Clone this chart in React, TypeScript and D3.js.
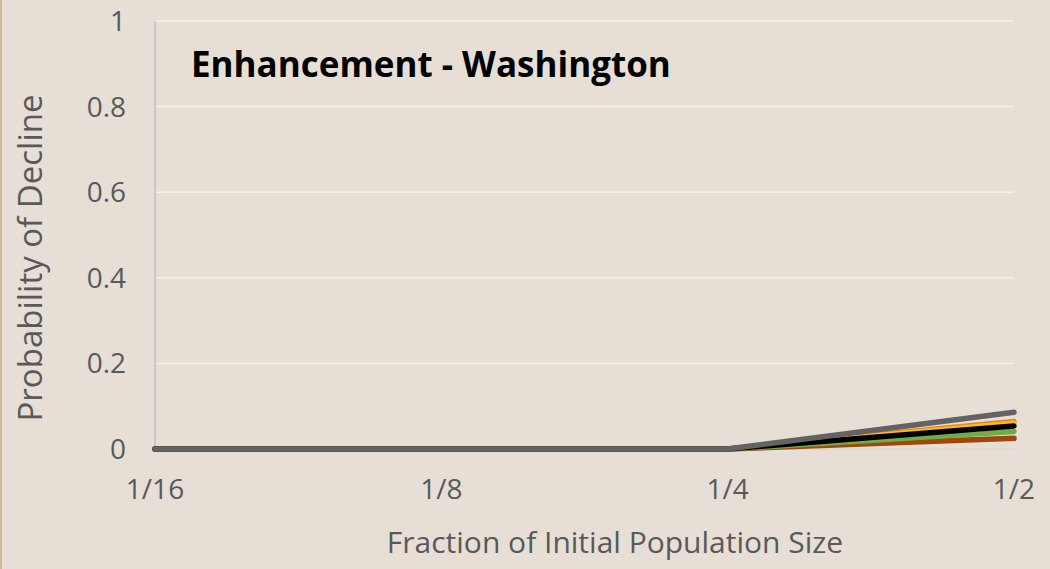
import React from "react";
import * as d3 from "d3";

const categories = ["1/16", "1/8", "1/4", "1/2"];
const yTicks = [0, 0.2, 0.4, 0.6, 0.8, 1];
const seriesNames = ["Brown", "Green", "Orange", "Yellow", "Black", "Gray"];
const seriesColors = ["#9E480E", "#70AD47", "#ED7D31", "#FFC000", "#000000", "#636363"];
const brownValues = [0, 0, 0, 0.025];
const greenValues = [0, 0, 0, 0.041];
const orangeValues = [0, 0, 0, 0.064];
const yellowValues = [0, 0, 0, 0.06];
const blackValues = [0, 0, 0, 0.054];
const grayValues = [0, 0, 0, 0.086];
const allValues = [brownValues, greenValues, orangeValues, yellowValues, blackValues, grayValues];

const W = 1050;
const H = 569;
const left = 155;
const right = 1014;
const top = 21;
const bottom = 449;
const font = "'Open Sans', 'Liberation Sans', sans-serif";

export default function App() {
  const x = d3.scalePoint<string>().domain(categories).range([left, right]);
  const y = d3.scaleLinear().domain([0, 1]).range([bottom, top]);
  const line = d3
    .line<number>()
    .x((_, i) => x(categories[i]) as number)
    .y((d) => y(d));

  return (
    <svg width={W} height={H} style={{ position: "absolute", left: 0, top: 0, display: "block" }}>
      <rect x={0} y={0} width={W} height={H} fill="#E7DFD6" />
      <rect x={0} y={0} width={2} height={H} fill="#D2B8A4" />
      {yTicks.map((t) => (
        <g key={t}>
          <line x1={left} x2={right} y1={y(t)} y2={y(t)} stroke={t === 0 ? "#D9D9D9" : "#F3EFEA"} strokeWidth={1.5} />
          <text x={126} y={y(t) + 10} textAnchor="end" fontFamily={font} fontSize={28} fill="#595959">
            {t}
          </text>
        </g>
      ))}
      <line x1={left} x2={left} y1={top} y2={bottom} stroke="#BFBFBF" strokeWidth={1.5} />
      {categories.map((c) => (
        <text key={c} x={x(c)} y={499} textAnchor="middle" fontFamily={font} fontSize={28} fill="#595959">
          {c}
        </text>
      ))}
      {allValues.map((vals, i) => (
        <path
          key={seriesNames[i]}
          d={line(vals) || ""}
          fill="none"
          stroke={seriesColors[i]}
          strokeWidth={5.5}
          strokeLinecap="round"
          strokeLinejoin="round"
        />
      ))}
      <text x={191} y={77} fontFamily={font} fontWeight="bold" fontSize={35} fill="#000000">
        Enhancement - Washington
      </text>
      <text x={615} y={553} textAnchor="middle" fontFamily={font} fontSize={30} fill="#595959">
        Fraction of Initial Population Size
      </text>
      <text
        transform={`translate(42, ${(top + bottom) / 2 + 23}) rotate(-90)`}
        textAnchor="middle"
        fontFamily={font}
        fontSize={33}
        fill="#595959"
      >
        Probability of Decline
      </text>
    </svg>
  );
}
